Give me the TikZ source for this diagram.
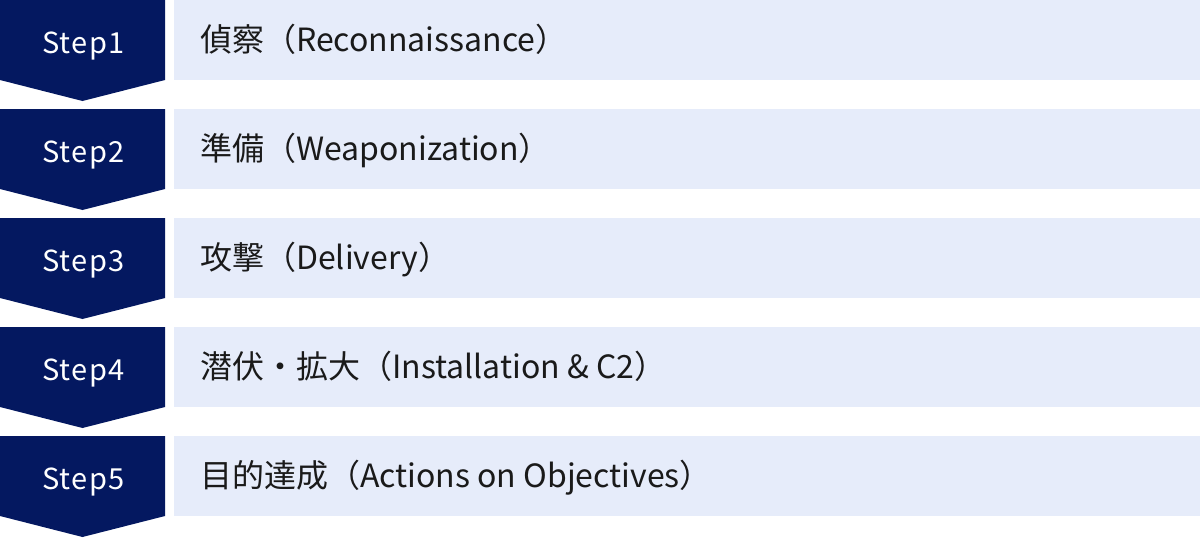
\documentclass[tikz,border=0pt]{standalone}
\usepackage{fontspec}
\setmainfont{Noto Sans CJK JP}
\usetikzlibrary{positioning}
\definecolor{stepnavy}{RGB}{4, 24, 96}
\definecolor{rowblue}{RGB}{230, 236, 250}
\definecolor{textdark}{RGB}{26, 26, 26}

\begin{document}
\begin{tikzpicture}[x=1pt, y=-1pt,
    stepshape/.style={fill=stepnavy},
    steplabel/.style={text=white, font=\fontsize{29}{29}\selectfont\addfontfeatures{LetterSpace=5}, anchor=base, inner sep=0pt},
    rowbox/.style={fill=rowblue},
    rowlabel/.style={text=textdark, font=\fontsize{32}{32}\selectfont, anchor=base west, inner sep=0pt}]

    \useasboundingbox (0,0) rectangle (1200,538);

    % Step 1
    \fill[stepshape] (0,0) -- (165,0) -- (165,80) -- (82.5,101) -- (0,80) -- cycle;
    \fill[rowbox] (174,0) rectangle (1200,80);
    \node[steplabel] (step1) at (83.5,53) {Step1};
    \node[rowlabel] (desc1) at (200,51) {偵察（Reconnaissance）};

    % Step 2
    \fill[stepshape] (0,109) -- (165,109) -- (165,189) -- (82.5,210) -- (0,189) -- cycle;
    \fill[rowbox] (174,109) rectangle (1200,189);
    \node[steplabel] (step2) at (83.5,162) {Step2};
    \node[rowlabel] (desc2) at (200,160) {準備（Weaponization）};

    % Step 3
    \fill[stepshape] (0,218) -- (165,218) -- (165,298) -- (82.5,319) -- (0,298) -- cycle;
    \fill[rowbox] (174,218) rectangle (1200,298);
    \node[steplabel] (step3) at (83.5,271) {Step3};
    \node[rowlabel] (desc3) at (200,269) {攻撃（Delivery）};

    % Step 4
    \fill[stepshape] (0,327) -- (165,327) -- (165,407) -- (82.5,428) -- (0,407) -- cycle;
    \fill[rowbox] (174,327) rectangle (1200,407);
    \node[steplabel] (step4) at (83.5,380) {Step4};
    \node[rowlabel] (desc4) at (200,378) {潜伏・拡大（Installation \& C2）};

    % Step 5
    \fill[stepshape] (0,436) -- (165,436) -- (165,516) -- (82.5,537) -- (0,516) -- cycle;
    \fill[rowbox] (174,436) rectangle (1200,516);
    \node[steplabel] (step5) at (83.5,489) {Step5};
    \node[rowlabel] (desc5) at (200,487) {目的達成（Actions on Objectives）};
\end{tikzpicture}
\end{document}
